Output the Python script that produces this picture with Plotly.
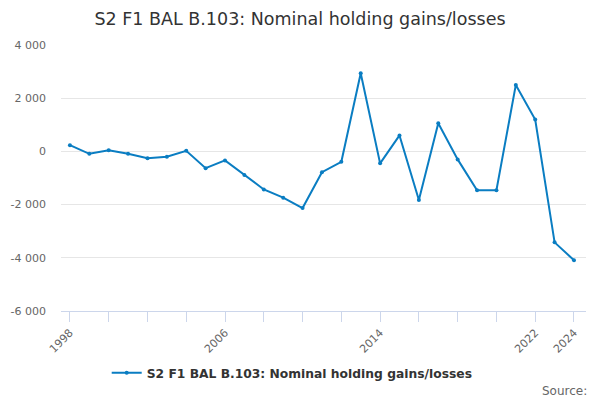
import plotly.graph_objects as go

years = list(range(1998, 2025))
values = [235, -90, 40, -90, -260, -200, 20, -630, -340, -890, -1430, -1740,
          -2130, -780, -390, 2940, -450, 600, -1830, 1060, -300, -1465, -1460,
          2500, 1200, -3420, -4090]
series_name = "S2 F1 BAL B.103: Nominal holding gains/losses"
x_tick_vals = list(range(1998, 2025, 2))
x_labeled = {1998, 2006, 2014, 2022, 2024}
x_tick_text = [str(v) if v in x_labeled else "" for v in x_tick_vals]
y_tick_vals = [4000, 2000, 0, -2000, -4000, -6000]
y_tick_text = ["4 000", "2 000", "0", "-2 000", "-4 000", "-6 000"]

fig = go.Figure()
fig.add_trace(go.Scatter(
    x=years, y=values, name=series_name, mode="lines+markers",
    line=dict(color="#0a7dc2", width=2),
    marker=dict(color="#0a7dc2", size=4),
))

fig.update_layout(
    width=600, height=400,
    paper_bgcolor="white", plot_bgcolor="white",
    font=dict(family="DejaVu Sans", color="#333333"),
    title=dict(text=series_name, x=0.5, xanchor="center", y=0.953, yanchor="middle",
               font=dict(size=17.5, color="#333333")),
    margin=dict(l=61, r=14, t=45, b=89),
    showlegend=True,
    legend=dict(orientation="h", xref="container", x=0.487, xanchor="center",
                yref="container", y=0.068, yanchor="middle",
                font=dict(size=12.3, color="#333333", weight="bold")),
    annotations=[dict(text="Source:", xref="paper", yref="paper", x=1.006, y=-0.30,
                      xanchor="right", yanchor="middle", showarrow=False,
                      font=dict(size=12, color="#666666"))],
)
fig.update_xaxes(
    range=[1997.54, 2024.62], tickvals=x_tick_vals, ticktext=x_tick_text,
    tickangle=-45, showgrid=False, showline=True, linecolor="#ccd6eb", linewidth=1,
    ticks="outside", ticklen=10, tickcolor="#ccd6eb", tickfont=dict(size=11, color="#666666"),
    zeroline=False, automargin=False,
)
fig.update_yaxes(
    range=[-6000, 4000], tickvals=y_tick_vals, ticktext=y_tick_text,
    showgrid=True, gridcolor="#e6e6e6", gridwidth=1, zeroline=False,
    tickfont=dict(size=11, color="#666666"), ticks="", ticklabelstandoff=14,
    automargin=False,
)

fig.write_html("out.html", config={"displayModeBar": False},
               post_script="document.body.style.margin='0';")
